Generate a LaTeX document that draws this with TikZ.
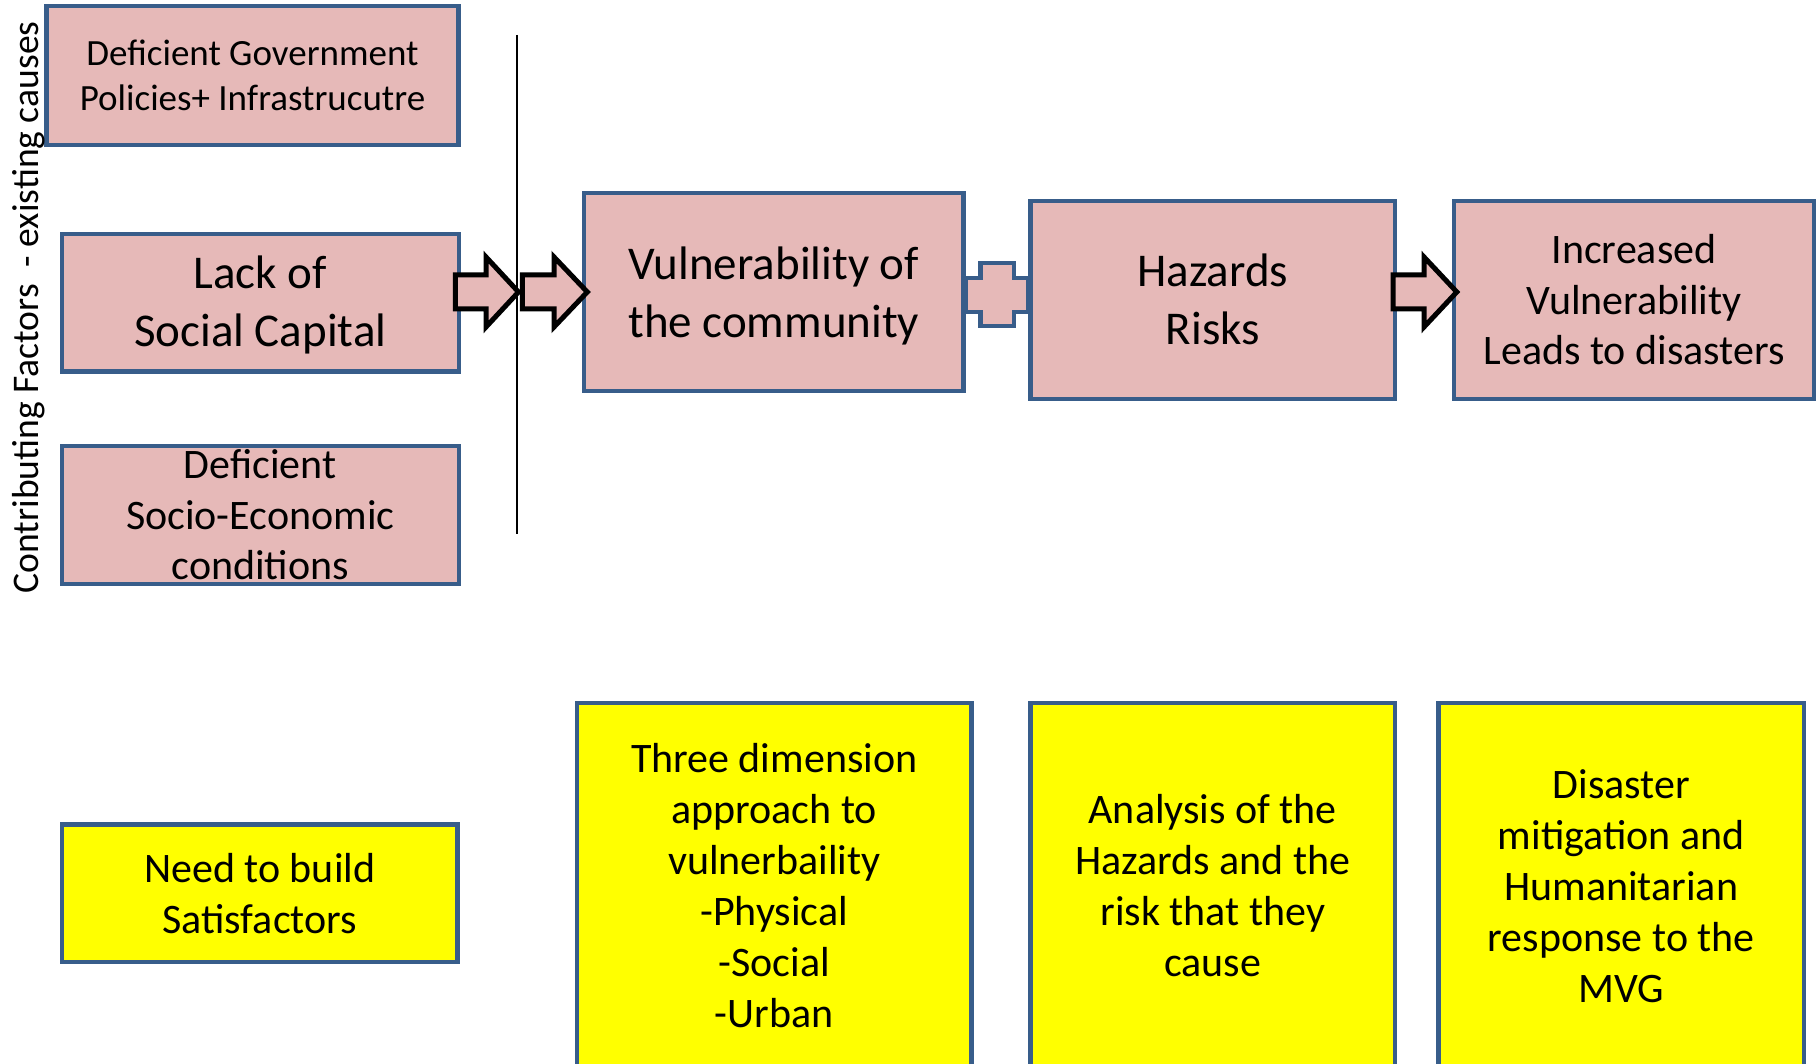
\documentclass[tikz,border=0pt]{standalone}
\usepackage{fontspec}
\setmainfont{Carlito}
\usetikzlibrary{backgrounds}
\definecolor{boxblue}{RGB}{56,93,138}
\definecolor{boxpink}{RGB}{230,185,184}
\definecolor{boxyellow}{RGB}{255,255,0}
\tikzset{
  pinkbox/.style={draw=boxblue, line width=4.2pt, fill=boxpink, rectangle, inner sep=0pt},
  yellowbox/.style={draw=boxblue, line width=4.2pt, fill=boxyellow, rectangle, inner sep=0pt},
  boxtext/.style={align=center, inner sep=0pt, text=black},
  blockarrow/.style={draw=black, line width=5pt, fill=boxpink, line join=miter},
}
\newcommand\blockarr[3]{%
  \draw[blockarrow] (#1,275) -- (#2,275) -- (#2,257) -- (#3,292) -- (#2,327) -- (#2,309) -- (#1,309) -- cycle;}
\begin{document}
\begin{tikzpicture}[x=1pt,y=-1pt]
\useasboundingbox (0,0) rectangle (1816,1064);
\clip (0,0) rectangle (1816,1064);

% top-left cause boxes
\node[pinkbox, minimum width=412pt, minimum height=139pt] (b1) at (252.5,75.3) {};
\node[boxtext, font=\fontsize{37}{45}\selectfont] (t1) at (b1.center) {Deficient Government\\Policies+ Infrastrucutre};
\node[pinkbox, minimum width=396.6pt, minimum height=137.5pt] (b2) at (260.3,302.8) {};
\node[boxtext, font=\fontsize{47}{58}\selectfont] (t2) at ([yshift=-2pt]b2.center) {Lack of\\Social Capital};
\node[pinkbox, minimum width=396.6pt, minimum height=137.8pt] (b3) at (260.3,514.8) {};
\node[boxtext, font=\fontsize{42}{50.5}\selectfont] (t3) at (b3.center) {Deficient\\Socio-Economic\\conditions};

% rotated label
\node[rotate=90, anchor=base, inner sep=0pt, font=\fontsize{37.6}{45}\selectfont] (lbl) at (38.5,307.5) {Contributing Factors\ \ - existing causes};

% separator line
\coordinate (ltop) at (516.5,35);
\coordinate (lbot) at (516.5,534);
\draw[line width=2pt] (ltop) -- (lbot);

% main chain
\node[pinkbox, minimum width=379.5pt, minimum height=197.4pt] (vuln) at (773.75,292) {};
\node[boxtext, font=\fontsize{47}{58}\selectfont] (tv) at ([yshift=-4pt]vuln.center) {Vulnerability of\\the community};
\node[pinkbox, minimum width=364.5pt, minimum height=198.3pt] (haz) at (1212.75,299.85) {};
\node[boxtext, font=\fontsize{47}{58}\selectfont] (th) at (haz.center) {Hazards\\Risks};
\node[pinkbox, minimum width=360pt, minimum height=198.3pt] (inc) at (1634,299.85) {};
\node[boxtext, font=\fontsize{42}{50.5}\selectfont] (ti) at (inc.center) {Increased\\Vulnerability\\Leads to disasters};

% plus sign between vulnerability and hazards
\begin{pgfonlayer}{background}
\draw[draw=boxblue, line width=4.2pt, fill=boxpink, line join=miter]
  (vuln.east |- 0,278.3) -- (980.4,278.3) -- (980.4,263.3) -- (1014,263.3) -- (1014,278.3)
  -- (haz.west |- 0,278.3) -- (haz.west |- 0,311.7) -- (1014,311.7) -- (1014,326)
  -- (980.4,326) -- (980.4,311.7) -- (vuln.east |- 0,311.7) -- cycle;
\end{pgfonlayer}

% block arrows
\blockarr{455.4}{486}{518.5}
\blockarr{522.3}{554}{587.3}
\blockarr{1393}{1424}{1456.8}

% bottom yellow boxes
\node[yellowbox, minimum width=395.5pt, minimum height=137.5pt] (need) at (259.75,893.25) {};
\node[boxtext, font=\fontsize{42}{51}\selectfont] (tn) at (need.center) {Need to build\\Satisfactors};
\node[yellowbox, minimum width=394.5pt, minimum height=366pt] (three) at (774.25,886) {};
\node[boxtext, font=\fontsize{42}{51}\selectfont] (tt) at (three.center) {Three dimension\\approach to\\vulnerbaility\\-Physical\\-Social\\-Urban};
\node[yellowbox, minimum width=364.5pt, minimum height=366pt] (anal) at (1212.75,886) {};
\node[boxtext, font=\fontsize{42}{51}\selectfont] (ta) at (anal.center) {Analysis of the\\Hazards and the\\risk that they\\cause};
\node[yellowbox, minimum width=365.5pt, minimum height=366pt] (dis) at (1621.25,886) {};
\node[boxtext, font=\fontsize{42}{51}\selectfont] (td) at (dis.center) {Disaster\\mitigation and\\Humanitarian\\response to the\\MVG};
\end{tikzpicture}
\end{document}
